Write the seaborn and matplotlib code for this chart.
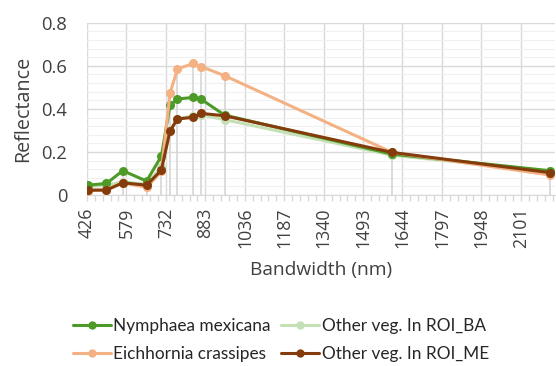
import numpy as np
import pandas as pd
import matplotlib
matplotlib.use("Agg")
import matplotlib.pyplot as plt
import seaborn as sns
from matplotlib.lines import Line2D

# ---- data ----
wavelength = [432, 502, 565, 657, 714, 747, 776, 837, 868, 958, 1604, 2214]
nymphaea = [0.046, 0.054, 0.113, 0.065, 0.181, 0.416, 0.446, 0.453, 0.444, 0.371, 0.190, 0.113]
eichhornia = [0.020, 0.025, 0.057, 0.036, 0.110, 0.472, 0.585, 0.611, 0.596, 0.554, 0.198, 0.093]
other_ba = [0.040, 0.045, 0.062, 0.050, 0.130, 0.300, 0.355, 0.368, 0.372, 0.350, 0.185, 0.110]
other_me = [0.023, 0.023, 0.057, 0.046, 0.116, 0.297, 0.353, 0.361, 0.379, 0.368, 0.198, 0.104]
series_names = ["Nymphaea mexicana", "Other veg. In ROI_BA", "Eichhornia crassipes", "Other veg. In ROI_ME"]
series_colors = ["#4e9a27", "#c5e0b4", "#f4b183", "#843c0c"]
xticks = [426, 579, 732, 883, 1036, 1187, 1340, 1493, 1644, 1797, 1948, 2101]
yticks = [0, 0.2, 0.4, 0.6, 0.8]

sns.set_style("white")
plt.rcParams["font.family"] = ["Open Sans", "DejaVu Sans"]

fig = plt.figure(figsize=(5.56, 3.66), dpi=100)
ax = fig.add_axes([0.156, 0.467, 0.842, 0.471])

vals = [nymphaea, other_ba, eichhornia, other_me]
frames = []
for name, v in zip(series_names, vals):
    frames.append(pd.DataFrame({"wl": wavelength, "refl": v, "series": name}))
df = pd.concat(frames)

# drop lines (from highest point to axis)
top = np.max(np.array(vals), axis=0)
ax.vlines(wavelength, 0, top, color="#d9d9d9", lw=1.3, zorder=1)

draw_order = ["Other veg. In ROI_BA", "Nymphaea mexicana", "Eichhornia crassipes", "Other veg. In ROI_ME"]
pal = dict(zip(series_names, series_colors))
for i, name in enumerate(draw_order):
    sub = df[df.series == name]
    sns.lineplot(data=sub, x="wl", y="refl", color=pal[name], lw=2.2,
                 marker="o", markersize=6.5, markeredgewidth=0, ax=ax,
                 zorder=3 + i, legend=False)

ax.set_xlim(426, 2232)
ax.set_ylim(0, 0.8)
ax.set_xticks(xticks)
ax.set_xticklabels([str(t) for t in xticks], rotation=90, fontsize=12.8, color="#404040")
minor = []
for a, b in zip(xticks[:-1], xticks[1:]):
    minor += list(np.linspace(a, b, 6)[1:-1])
minor += list(np.arange(xticks[-1] + 30.6, 2232, 30.6))
ax.set_xticks(minor, minor=True)
ax.set_yticks(yticks)
ax.set_yticklabels(["0", "0.2", "0.4", "0.6", "0.8"], fontsize=13.2, color="#404040")
ax.set_yticks(np.arange(0, 0.81, 0.04), minor=True)

ax.grid(which="major", color="#d9d9d9", lw=1.0)
ax.grid(which="minor", axis="y", color="#f0f0f0", lw=0.8)
for s in ["top", "right", "left"]:
    ax.spines[s].set_visible(False)
ax.spines["bottom"].set_color("#d9d9d9")
ax.tick_params(axis="x", which="both", length=4, color="#d9d9d9", width=1, pad=5, bottom=True)
ax.tick_params(axis="y", which="both", length=0, pad=14)

ax.set_xlabel("Bandwidth (nm)", fontsize=13.8, color="#404040", labelpad=9)
ax.set_ylabel("Reflectance", fontsize=14.2, color="#404040", labelpad=6)

order = [0, 2, 1, 3]
handles = [Line2D([0], [0], color=series_colors[k], lw=2.2, marker="o", markersize=6,
                  markeredgewidth=0) for k in order]
labels = [series_names[k] for k in order]
leg = fig.legend(handles, labels, loc="center", bbox_to_anchor=(0.505, 0.071),
                 ncol=2, frameon=False, handlelength=2.2,
                 columnspacing=0.6, handletextpad=0.15, labelspacing=0.75,
                 prop={"family": ["Lato", "DejaVu Sans"], "size": 12.4})
for t in leg.get_texts():
    t.set_color("#262626")

fig.savefig("out.png", dpi=100)
